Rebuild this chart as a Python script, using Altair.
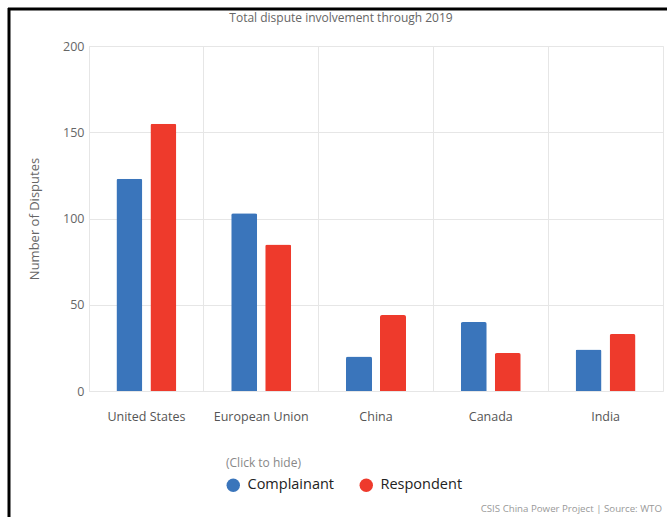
import altair as alt
import pandas as pd

countries = ["United States", "European Union", "China", "Canada", "India"]
complainant = [123, 103, 20, 40, 24]
respondent = [155, 85, 44, 22, 33]
series = ["Complainant", "Respondent"]
colors = ["#3a75bb", "#ee3a2c"]
title_text = "Total dispute involvement through 2019"
y_title = "Number of Disputes"
legend_title = "(Click to hide)"
source_text = "CSIS China Power Project | Source: WTO"

rows = []
for c, a, b in zip(countries, complainant, respondent):
    rows.append({"country": c, "role": series[0], "value": a})
    rows.append({"country": c, "role": series[1], "value": b})
df = pd.DataFrame(rows)

FONT = "Open Sans"
W, H = 574, 345

bars = alt.Chart(df).mark_bar(
    size=26, cornerRadiusTopLeft=2, cornerRadiusTopRight=2
).encode(
    x=alt.X("country:N", sort=countries, title=None,
            scale=alt.Scale(paddingInner=0, paddingOuter=0),
            axis=alt.Axis(grid=True, bandPosition=0, ticks=False, domain=False,
                          labelAngle=0, labelFontSize=12.5, labelColor="#555",
                          labelFont=FONT, labelPadding=19, gridColor="#e6e6e6")),
    xOffset=alt.XOffset("role:N", sort=series,
                        scale=alt.Scale(paddingInner=0.235, paddingOuter=0.806)),
    y=alt.Y("value:Q", title=y_title,
            scale=alt.Scale(domain=[0, 200]),
            axis=alt.Axis(values=[0, 50, 100, 150, 200], ticks=False, domain=False,
                          labelFontSize=12.5, labelColor="#666", labelFont=FONT,
                          labelPadding=5, gridColor="#e6e6e6",
                          titleFontSize=13, titleColor="#666", titleFont=FONT,
                          titleFontWeight="normal", titlePadding=21)),
    color=alt.Color("role:N", sort=series,
                    scale=alt.Scale(domain=series, range=colors),
                    legend=alt.Legend(title=legend_title, orient="none",
                                      legendX=137, legendY=412,
                                      direction="horizontal", titleOrient="top",
                                      symbolType="circle", symbolSize=180,
                                      symbolStrokeWidth=0, symbolOpacity=1,
                                      labelFontSize=14.5, labelColor="#222",
                                      labelFont=FONT, labelOffset=7,
                                      titleFontSize=12, titleColor="#888",
                                      titleFont=FONT, titleFontWeight="normal",
                                      titlePadding=8, columnPadding=24)),
)

src = alt.Chart(pd.DataFrame({"t": [source_text]})).mark_text(
    align="right", baseline="alphabetic", fontSize=9.7, color="#999", font=FONT
).encode(x=alt.value(W - 1), y=alt.value(466), text="t:N")

border_df = pd.DataFrame({"k": [1]})
left_line = alt.Chart(border_df).mark_rule(color="black", strokeWidth=3).encode(
    x=alt.value(-80), y=alt.value(-38), y2=alt.value(480))
top_line = alt.Chart(border_df).mark_rule(color="black", strokeWidth=3).encode(
    x=alt.value(-81), x2=alt.value(600), y=alt.value(-37))

chart = alt.layer(bars, src, left_line, top_line).properties(
    width=W, height=H,
    title=alt.TitleParams(title_text, fontSize=12, color="#666", font=FONT,
                          fontWeight="normal", anchor="middle", dx=-35, offset=-18),
    autosize=alt.AutoSizeParams(type="none"),
    padding={"left": 89, "top": 46, "right": 4, "bottom": 126},
).configure_view(stroke="#e6e6e6")

chart.save("out.html", embed_options={"renderer": "svg", "actions": False})
